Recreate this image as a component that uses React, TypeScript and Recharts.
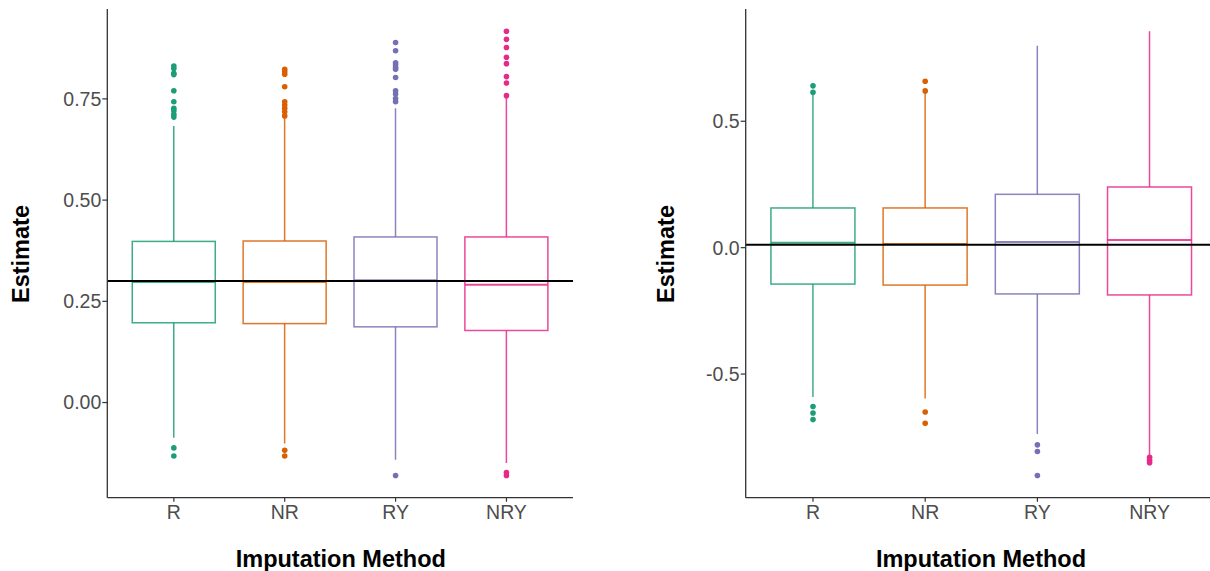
import React from 'react';
import { ComposedChart, Bar, Scatter, XAxis, YAxis, ReferenceLine } from 'recharts';

const categories = ['R', 'NR', 'RY', 'NRY'];
const colors = ['#1B9E77', '#D95F02', '#7570B3', '#E7298A'];

// Left panel (boxplot statistics per category)
const leftLower = [-0.087, -0.101, -0.141, -0.149];
const leftQ1 = [0.197, 0.195, 0.187, 0.178];
const leftMedian = [0.298, 0.298, 0.302, 0.291];
const leftQ3 = [0.398, 0.399, 0.409, 0.409];
const leftUpper = [0.683, 0.702, 0.727, 0.755];
const leftOutliers = [
  [0.831, 0.825, 0.813, 0.81, 0.77, 0.743, 0.727, 0.721, 0.712, 0.705, -0.112, -0.132],
  [0.823, 0.817, 0.811, 0.78, 0.743, 0.735, 0.727, 0.718, 0.708, -0.118, -0.132],
  [0.889, 0.869, 0.839, 0.834, 0.828, 0.823, 0.803, 0.77, 0.762, 0.751, 0.743, -0.18],
  [0.917, 0.897, 0.877, 0.853, 0.837, 0.805, 0.789, 0.758, -0.173, -0.18],
];
const leftTicks = [0, 0.25, 0.5, 0.75];
const leftDomain = [-0.235, 0.972];
const leftRef = 0.3;

// Right panel
const rightLower = [-0.591, -0.597, -0.737, -0.827];
const rightQ1 = [-0.144, -0.148, -0.183, -0.187];
const rightMedian = [0.019, 0.014, 0.022, 0.03];
const rightQ3 = [0.157, 0.157, 0.211, 0.24];
const rightUpper = [0.61, 0.615, 0.799, 0.856];
const rightOutliers = [
  [0.64, 0.615, -0.628, -0.654, -0.68],
  [0.658, 0.62, -0.65, -0.695],
  [-0.78, -0.806, -0.901],
  [-0.829, -0.841, -0.851],
];
const rightTicks = [-0.5, 0, 0.5];
const rightDomain = [-0.989, 0.944];
const rightRef = 0.012;

const FONT = '"Liberation Sans", Arial, Helvetica, sans-serif';

function buildRows(lo: number[], q1: number[], med: number[], q3: number[], hi: number[]) {
  return categories.map((name, i) => ({
    name,
    lo: lo[i],
    q1: q1[i],
    med: med[i],
    q3: q3[i],
    hi: hi[i],
    color: colors[i],
  }));
}

function buildOutliers(out: number[][]) {
  return categories.map((name, i) => out[i].map((value) => ({ name, value })));
}

const BoxShape = (props: any) => {
  const { x, y, width, height, payload } = props;
  if (x == null || y == null || !payload) return null;
  const top = Math.min(y, y + height);
  const h = Math.abs(height);
  const { lo, hi, q1, q3, med, color } = payload;
  const toPx = (v: number) => top + (h * (hi - v)) / (hi - lo);
  const cx = x + width / 2;
  const yQ3 = toPx(q3);
  const yQ1 = toPx(q1);
  const yMed = toPx(med);
  return (
    <g stroke={color} strokeOpacity={0.85} fill="none" strokeWidth={1.5}>
      <line x1={cx} x2={cx} y1={toPx(hi)} y2={yQ3} />
      <line x1={cx} x2={cx} y1={yQ1} y2={toPx(lo)} />
      <rect x={x} y={yQ3} width={width} height={yQ1 - yQ3} fill="#fff" fillOpacity={0} />
      <line x1={x} x2={x + width} y1={yMed} y2={yMed} strokeWidth={2} />
    </g>
  );
};

type PanelProps = {
  left: number;
  width: number;
  marginLeft: number;
  marginRight: number;
  pad: number;
  rows: any[];
  outliers: { name: string; value: number }[][];
  domain: number[];
  ticks: number[];
  digits: number;
  refValue: number;
};

const Panel = (p: PanelProps) => (
  <div style={{ position: 'absolute', left: p.left, top: 0 }}>
    <ComposedChart
      width={p.width}
      height={571}
      data={p.rows}
      margin={{ top: 9, right: p.marginRight, bottom: 33.3, left: p.marginLeft }}
      barCategoryGap="12.5%"
    >
      <XAxis
        dataKey="name"
        type="category"
        allowDuplicatedCategory={false}
        padding={{ left: p.pad, right: p.pad }}
        height={40}
        axisLine={{ stroke: '#333', strokeWidth: 1.3 }}
        tickLine={{ stroke: '#333', strokeWidth: 1.2 }}
        tickSize={4}
        tickMargin={3}
        tick={{ fill: '#4D4D4D', fontSize: 19.5, fontFamily: FONT }}
      />
      <YAxis
        type="number"
        domain={p.domain}
        ticks={p.ticks}
        allowDataOverflow
        width={60}
        axisLine={{ stroke: '#333', strokeWidth: 1.3 }}
        tickLine={{ stroke: '#333', strokeWidth: 1.2 }}
        tickSize={5}
        tickMargin={1}
        tickFormatter={(v: number) => v.toFixed(p.digits)}
        tick={{ fill: '#4D4D4D', fontSize: 19.5, fontFamily: FONT }}
      />
      <Bar
        dataKey={(d: any) => [d.lo, d.hi]}
        shape={(sp: any) => <BoxShape {...sp} />}
        isAnimationActive={false}
      />
      {p.outliers.map((pts, i) => (
        <Scatter
          key={categories[i]}
          data={pts}
          dataKey="value"
          isAnimationActive={false}
          shape={(sp: any) => <circle cx={sp.cx} cy={sp.cy} r={2.8} fill={colors[i]} />}
        />
      ))}
      <ReferenceLine y={p.refValue} stroke="#000" strokeWidth={2} />
    </ComposedChart>
  </div>
);

export default function App() {
  const leftRows = buildRows(leftLower, leftQ1, leftMedian, leftQ3, leftUpper);
  const rightRows = buildRows(rightLower, rightQ1, rightMedian, rightQ3, rightUpper);
  return (
    <div
      style={{
        position: 'absolute',
        left: 0,
        top: 0,
        width: 1210,
        height: 571,
        overflow: 'hidden',
        background: '#fff',
      }}
    >
      <Panel
        left={0}
        width={600}
        marginLeft={47.3}
        marginRight={27}
        pad={11.1}
        rows={leftRows}
        outliers={buildOutliers(leftOutliers)}
        domain={leftDomain}
        ticks={leftTicks}
        digits={2}
        refValue={leftRef}
      />
      <Panel
        left={620}
        width={620}
        marginLeft={65.7}
        marginRight={23.1}
        pad={11.2}
        rows={rightRows}
        outliers={buildOutliers(rightOutliers)}
        domain={rightDomain}
        ticks={rightTicks}
        digits={1}
        refValue={rightRef}
      />
      <svg
        width={1210}
        height={571}
        style={{ position: 'absolute', left: 0, top: 0, pointerEvents: 'none' }}
      >
        <g fontFamily={FONT} fontWeight="bold" fontSize={23.5} fill="#000">
          <text x={340.8} y={567.3} textAnchor="middle">Imputation Method</text>
          <text x={981} y={567.3} textAnchor="middle">Imputation Method</text>
          <text transform="translate(29.3,254) rotate(-90)" textAnchor="middle">Estimate</text>
          <text transform="translate(673.8,254) rotate(-90)" textAnchor="middle">Estimate</text>
        </g>
      </svg>
    </div>
  );
}
